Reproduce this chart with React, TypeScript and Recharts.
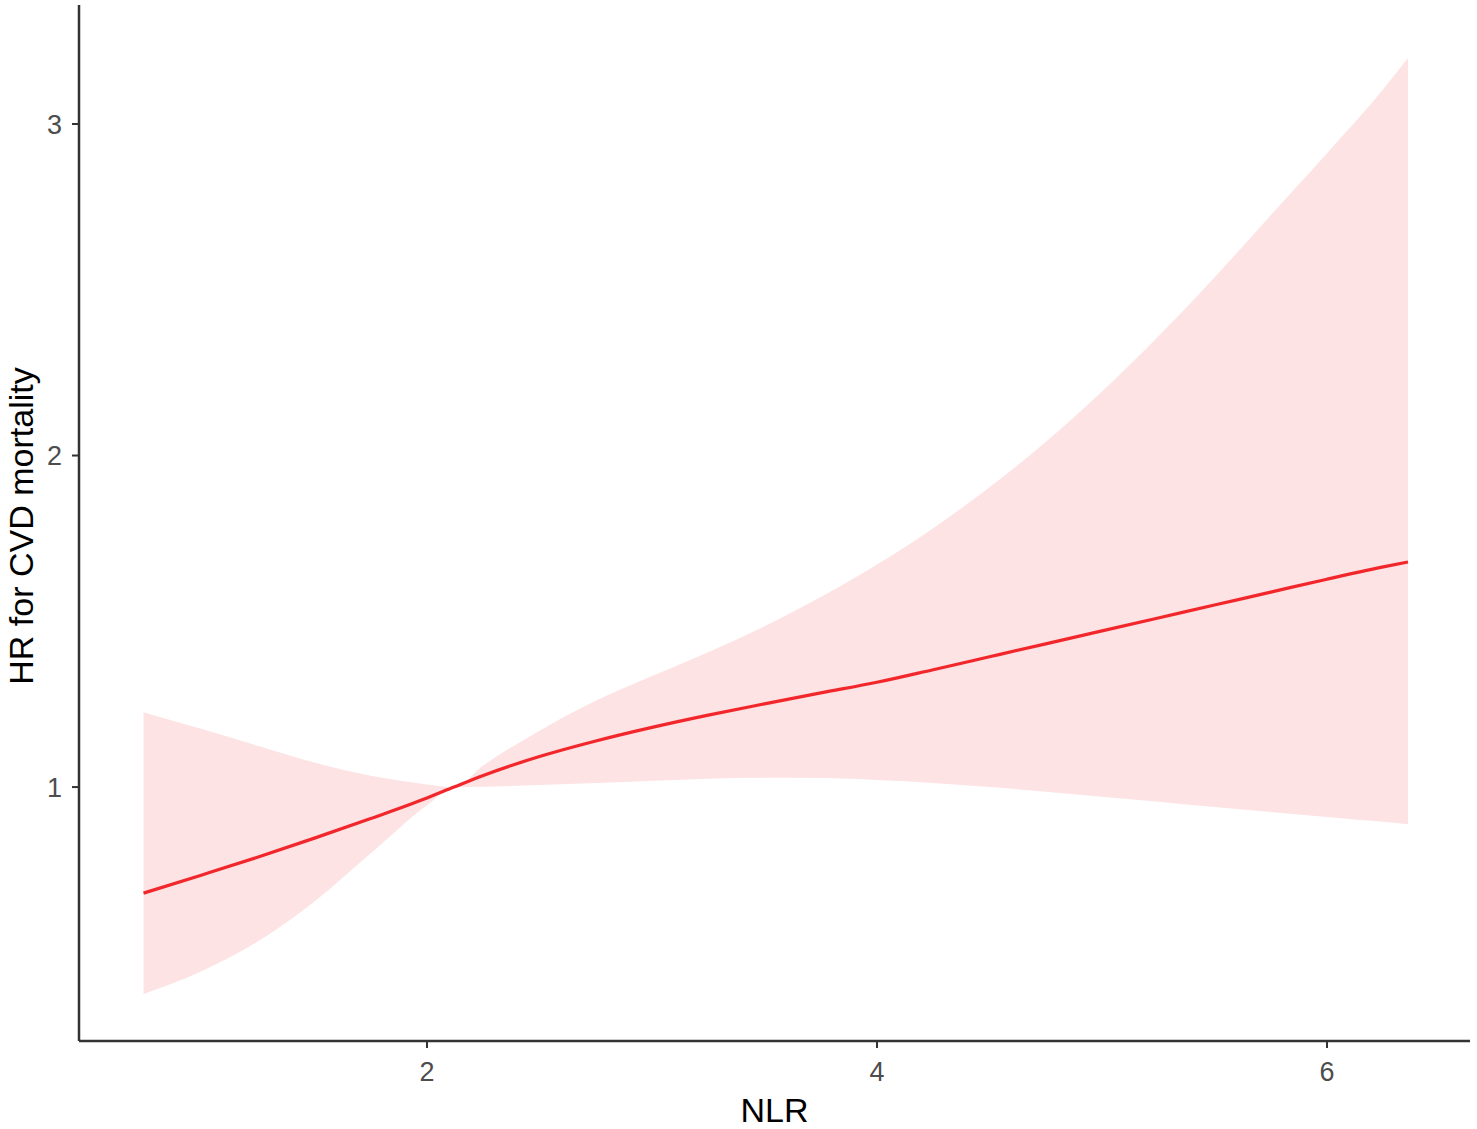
import React from 'react';
import { ComposedChart, Area, Line, XAxis, YAxis } from 'recharts';

const nlr = [0.74, 1.0, 1.25, 1.5, 1.75, 2.0, 2.12, 2.25, 2.5, 2.75, 3.0, 3.25, 3.5, 3.75, 4.0, 4.25, 4.5, 4.75, 5.0, 5.25, 5.5, 5.75, 6.0, 6.25, 6.36];
const hr = [0.68, 0.735, 0.789, 0.846, 0.905, 0.967, 1.0, 1.035, 1.092, 1.139, 1.18, 1.217, 1.251, 1.284, 1.316, 1.354, 1.393, 1.432, 1.471, 1.51, 1.549, 1.588, 1.627, 1.664, 1.679];
const lower = [0.376, 0.445, 0.535, 0.655, 0.8, 0.945, 1.0, 1.001, 1.006, 1.012, 1.019, 1.025, 1.028, 1.027, 1.021, 1.012, 1.0, 0.986, 0.971, 0.956, 0.94, 0.925, 0.91, 0.895, 0.888];
const upper = [1.226, 1.175, 1.124, 1.074, 1.034, 1.008, 1.0, 1.065, 1.17, 1.26, 1.335, 1.407, 1.485, 1.573, 1.671, 1.781, 1.904, 2.041, 2.193, 2.359, 2.537, 2.725, 2.912, 3.105, 3.199];

const xTicks = [2, 4, 6];
const yTicks = [1, 2, 3];
const xTitle = 'NLR';
const yTitle = 'HR for CVD mortality';

const data = nlr.map((x, i) => ({ nlr: x, hr: hr[i], band: [lower[i], upper[i]] }));

const FONT = '"Liberation Sans", Arial, sans-serif';

const XTitle = (props: any) => {
  const vb = props.viewBox || { x: 79, y: 1041, width: 1391, height: 88 };
  return (
    <text x={vb.x + vb.width / 2} y={vb.y + 81} textAnchor="middle" fontSize={34} fontFamily={FONT} fill="#000">
      {xTitle}
    </text>
  );
};

const YTitle = (props: any) => {
  const vb = props.viewBox || { x: 0, y: 5, width: 79, height: 1036 };
  const cx = vb.x + 33;
  const cy = vb.y + vb.height / 2 + 3;
  return (
    <text x={cx} y={cy} transform={`rotate(-90 ${cx} ${cy})`} textAnchor="middle" fontSize={34} fontFamily={FONT} fill="#000">
      {yTitle}
    </text>
  );
};

export default function App() {
  return (
    <div style={{ position: 'absolute', left: 0, top: 0, width: 1477, height: 1129, background: '#fff' }}>
      <ComposedChart width={1477} height={1129} data={data} margin={{ top: 5, right: 7, left: 0, bottom: 0 }}>
        <XAxis
          type="number"
          dataKey="nlr"
          domain={[0.4533, 6.6356]}
          ticks={xTicks}
          allowDataOverflow
          height={88}
          tickSize={7}
          tickMargin={14}
          axisLine={{ stroke: '#333', strokeWidth: 2.5 }}
          tickLine={{ stroke: '#333', strokeWidth: 2 }}
          tick={{ fill: '#4d4d4d', fontSize: 27, fontFamily: FONT }}
          label={{ content: XTitle }}
        />
        <YAxis
          type="number"
          domain={[0.234, 3.359]}
          ticks={yTicks}
          allowDataOverflow
          width={79}
          tickSize={7}
          tickMargin={10}
          axisLine={{ stroke: '#333', strokeWidth: 2.5 }}
          tickLine={{ stroke: '#333', strokeWidth: 2 }}
          tick={{ fill: '#4d4d4d', fontSize: 27, fontFamily: FONT }}
          label={{ content: YTitle }}
        />
        <Area
          type="monotone"
          dataKey="band"
          stroke="none"
          fill="#fde3e4"
          fillOpacity={1}
          isAnimationActive={false}
          activeDot={false}
        />
        <Line
          type="monotone"
          dataKey="hr"
          stroke="#f2272b"
          strokeWidth={3.2}
          dot={false}
          activeDot={false}
          isAnimationActive={false}
        />
      </ComposedChart>
    </div>
  );
}
